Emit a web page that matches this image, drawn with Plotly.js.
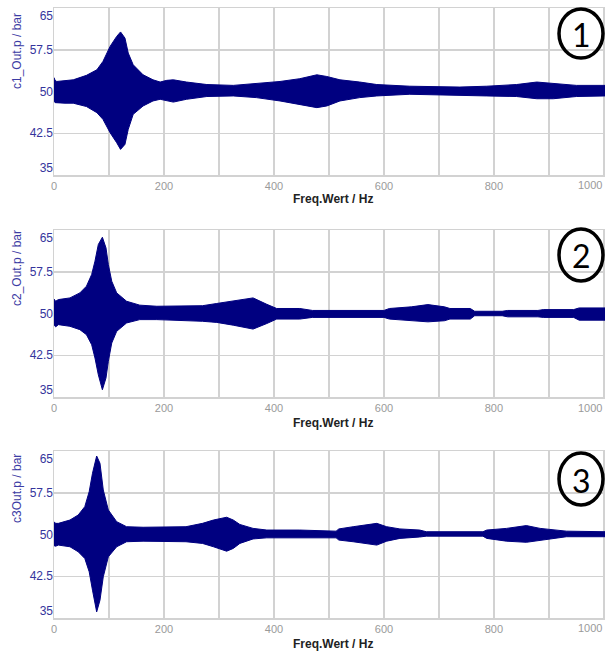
<!DOCTYPE html>
<html>
<head>
<meta charset="utf-8">
<script src="https://cdn.plot.ly/plotly-3.0.1.min.js"></script>
<style>
html,body{margin:0;padding:0;background:#fff;overflow:hidden;}
#chart{width:625px;height:654px;}
</style>
</head>
<body>
<div id="chart"></div>
<script>
// ---------- data (envelope of the pressure signal) ----------
var f1  = [0, 2, 5, 20, 35, 59, 78, 89, 102, 114, 121, 129, 135, 144, 162, 180, 193, 205, 217, 241, 278, 326, 368, 411, 447, 478, 496, 520, 556, 587, 647, 702, 738, 787, 841, 878, 908, 950, 1002];
var up1 = [52.5, 52.0, 51.8, 52.0, 52.1, 52.9, 53.9, 55.4, 58.1, 59.9, 60.7, 59.6, 56.9, 54.8, 53.0, 52.1, 51.7, 52.0, 52.1, 51.7, 51.25, 51.1, 51.4, 51.8, 52.3, 53.0, 52.7, 52.1, 51.7, 51.25, 50.95, 50.8, 50.8, 50.95, 51.25, 51.7, 51.4, 51.1, 51.1];
var lo1 = [48.3, 48.0, 48.0, 47.9, 47.9, 47.3, 46.2, 45.0, 42.6, 40.8, 39.6, 40.5, 43.2, 45.9, 47.4, 48.3, 48.6, 48.3, 48.1, 48.6, 49.1, 49.2, 48.9, 48.3, 47.7, 47.1, 47.4, 48.3, 48.9, 49.2, 49.5, 49.5, 49.3, 49.2, 49.1, 48.7, 48.7, 49.1, 49.2];

var f2  = [0, 3, 8, 29, 47, 59, 68.5, 74.5, 80.6, 88, 94.5, 98.8, 105, 114, 132, 156, 187, 230, 270, 296, 326, 362, 387, 405, 447, 470, 600, 610, 650, 680, 710, 720, 757, 765, 815, 825, 880, 890, 945, 955, 1002];
var up2 = [52.6, 52.2, 52.5, 52.8, 53.7, 54.9, 57.0, 59.4, 62.4, 63.7, 61.8, 58.8, 55.8, 53.7, 52.2, 51.5, 51.3, 51.3, 51.4, 51.8, 52.2, 52.8, 51.65, 50.9, 50.9, 50.55, 50.55, 50.9, 51.2, 51.6, 51.2, 50.9, 50.9, 50.4, 50.4, 50.55, 50.55, 50.7, 50.7, 51.0, 51.0];
var lo2 = [48.0, 47.6, 48.0, 47.7, 47.1, 46.2, 44.4, 42.0, 39.0, 36.3, 38.4, 41.4, 44.7, 46.8, 48.3, 48.9, 48.9, 48.8, 48.6, 48.4, 47.9, 47.2, 48.2, 49.0, 49.0, 49.3, 49.3, 49.0, 48.7, 48.5, 48.7, 49.0, 49.0, 49.6, 49.6, 49.4, 49.4, 49.3, 49.3, 48.8, 48.8];

var f3  = [0, 3, 8, 29, 44, 56, 64, 70, 77.6, 83.6, 89.6, 98.8, 114, 132, 162, 240, 270, 290, 314, 326, 338, 362, 387, 447, 513, 518, 544, 587, 605, 629, 665, 677, 780, 787, 823, 859, 884, 932, 1002];
var up3 = [52.3, 52.0, 52.0, 52.6, 53.5, 55.0, 57.7, 61.0, 64.1, 62.8, 58.0, 54.4, 52.3, 51.4, 51.3, 51.4, 52.0, 52.6, 53.1, 52.6, 51.8, 51.1, 50.8, 50.8, 50.6, 51.0, 51.4, 52.0, 51.4, 51.0, 50.8, 50.5, 50.5, 50.8, 51.1, 51.6, 51.1, 50.6, 50.5];
var lo3 = [48.0, 47.9, 48.1, 47.8, 46.9, 45.7, 43.3, 40.0, 36.1, 38.2, 42.4, 46.0, 47.8, 48.7, 48.8, 48.7, 48.4, 47.8, 47.0, 47.5, 48.4, 49.2, 49.4, 49.4, 49.4, 49.0, 48.7, 48.1, 48.8, 49.3, 49.55, 49.7, 49.7, 49.3, 48.8, 48.6, 49.0, 49.6, 49.6];

var yTitles   = ["c1_Out.p / bar", "c2_Out.p / bar", "c3Out.p / bar"];
var xTitle    = "Freq.Wert / Hz";
var panelNums = ["1", "2", "3"];
var xTickVals = [0, 100, 200, 300, 400, 500, 600, 700, 800, 900, 1000];
var xTickText = ["0", "", "200", "", "400", "", "600", "", "800", "", "1000"];
var yGridVals = [35, 42.5, 50, 57.5, 65];
var yTickText = ["35", "42.5", "50", "57.5", "65"];
var yLabelPos = [36.3, 42.5, 50, 57.5, 63.6];  // end labels drawn inside the frame, as in the original

// ---------- build ----------
var NAVY = "#000080";
var FONT = "Liberation Sans, Arial, sans-serif";
var W = 625, H = 654, ML = 54, MR = 20, PW = W - ML - MR;  // plot area 551 px wide, right part beyond the window
function px2x(px) { return (px - ML) / PW; }
function py2y(py) { return 1 - py / H; }

// the last x label sits at the right window edge: it is drawn shifted left (as in the original) instead of centred
var lastIdx = xTickText.length - 1;
var axisTickText = xTickText.map(function (t, k) { return k === lastIdx ? "" : t; });

var sets = [[f1, up1, lo1], [f2, up2, lo2], [f3, up3, lo3]];
var traces = [];
sets.forEach(function (s, i) {
  var f = s[0], up = s[1], lo = s[2];
  var xs = f.concat(f.slice().reverse());
  var ys = up.concat(lo.slice().reverse());
  var ax = i === 0 ? "" : String(i + 1);
  traces.push({
    type: "scatter", mode: "lines", x: xs, y: ys, fill: "toself",
    fillcolor: NAVY, line: {color: NAVY, width: 1},
    xaxis: "x" + ax, yaxis: "y" + ax, showlegend: false, hoverinfo: "skip"
  });
  traces.push({
    type: "scatter", mode: "lines", x: [null], y: [null],
    xaxis: "x" + ax, yaxis: "y" + (i + 4), showlegend: false, hoverinfo: "skip"
  });
});

var domains = [[py2y(175), py2y(8)], [py2y(397), py2y(230)], [py2y(618), py2y(451)]];
var layout = {
  width: W, height: H,
  margin: {l: ML, r: MR, t: 0, b: 0, pad: 0},
  paper_bgcolor: "#ffffff", plot_bgcolor: "#ffffff",
  font: {family: FONT, size: 12, color: "#333"},
  showlegend: false,
  annotations: [], shapes: []
};
var GRID = "#d2d2d2";
for (var i = 0; i < 3; i++) {
  var ax = i === 0 ? "" : String(i + 1);
  layout["xaxis" + ax] = {
    domain: [0, 1], anchor: "y" + ax, range: [0, 1002],
    tickmode: "array", tickvals: xTickVals, ticktext: axisTickText,
    showgrid: true, gridcolor: GRID, gridwidth: 1.5,
    showline: true, linecolor: GRID, linewidth: 1.5, mirror: true,
    zeroline: false, ticks: "",
    tickfont: {family: FONT, size: 11, color: "#9a9a9a"}
  };
  layout["yaxis" + ax] = {
    domain: domains[i], anchor: "x" + ax, range: [35, 65],
    tickmode: "array", tickvals: yGridVals, showticklabels: false,
    showgrid: true, gridcolor: GRID, gridwidth: 1.5,
    showline: true, linecolor: GRID, linewidth: 1.5, mirror: true,
    zeroline: false, ticks: ""
  };
  layout["yaxis" + (i + 4)] = {
    overlaying: "y" + ax, anchor: "x" + ax, side: "left", range: [35, 65],
    tickmode: "array", tickvals: yLabelPos, ticktext: yTickText,
    showgrid: false, zeroline: false, showline: false, ticks: "",
    tickfont: {family: FONT, size: 12, color: "#34349c"}
  };
  // last x tick label, right-aligned at the window edge
  layout.annotations.push({
    xref: "paper", yref: "paper", x: px2x(604), y: py2y([185, 408, 628][i]),
    xanchor: "right", yanchor: "middle", showarrow: false,
    text: xTickText[lastIdx], font: {family: FONT, size: 11, color: "#9a9a9a"}
  });
  // y title
  layout.annotations.push({
    xref: "paper", yref: "paper", x: px2x(17), y: py2y([51, 268, 489][i]),
    xanchor: "center", yanchor: "middle", textangle: -90, showarrow: false,
    text: yTitles[i], font: {family: FONT, size: 12, color: "#3c3ca4"}
  });
  // x title
  layout.annotations.push({
    xref: "paper", yref: "paper", x: px2x(333), y: py2y([199, 423, 644][i]),
    xanchor: "center", yanchor: "middle", showarrow: false,
    text: xTitle, font: {family: FONT, size: 12, color: "#222", weight: "bold"}
  });
  // circled number
  var cy = [[9, 58], [229, 281], [453, 505]][i];
  layout.shapes.push({
    type: "circle", xref: "paper", yref: "paper",
    x0: px2x(559), x1: px2x(603),
    y0: py2y(cy[1]), y1: py2y(cy[0]),
    line: {color: "#000", width: 3.5}, fillcolor: "rgba(255,255,255,0)"
  });
  layout.annotations.push({
    xref: "paper", yref: "paper", x: px2x(581), y: py2y((cy[0] + cy[1]) / 2 + 1),
    xanchor: "center", yanchor: "middle", showarrow: false,
    text: panelNums[i], font: {family: "Lato, Liberation Sans, sans-serif", size: 32, color: "#000"}
  });
}

Plotly.newPlot("chart", traces, layout, {displayModeBar: false, staticPlot: true});
</script>
</body>
</html>
